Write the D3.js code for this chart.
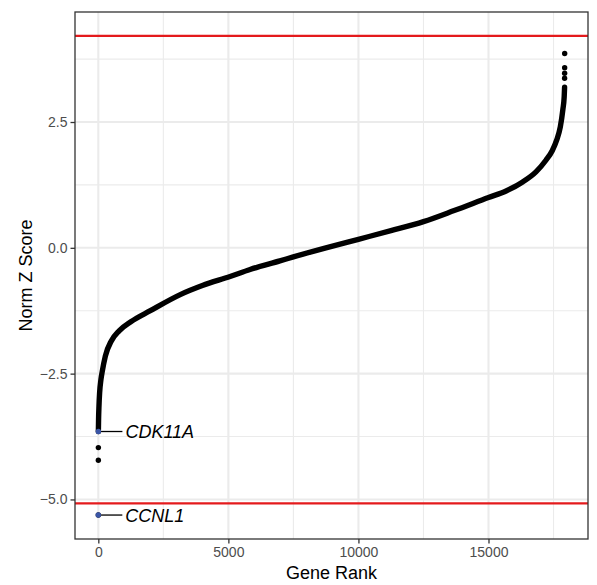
<!DOCTYPE html>
<html>
<head>
<meta charset="utf-8">
<script src="https://cdn.jsdelivr.net/npm/d3@7"></script>
<style>
    body { margin: 0; background: #fff; }
    text { font-family: 'Liberation Sans', Arial, sans-serif; }
</style>
</head>
<body>
<div id="myChart"></div>
<script>
// sorted gene scores (rank, norm z)
let geneRank = [3, 10, 25, 50, 100, 150, 270, 500, 800, 1250, 2000, 3150, 4000, 5065,
    5834, 6980, 7500, 8750, 10000, 11250, 12500, 13680, 15000, 15676, 16314, 16825,
    17208, 17450, 17620, 17760, 17860, 17910, 17925];
let normZ = [-3.62, -3.40, -3.15, -2.88, -2.62, -2.46, -2.15, -1.85, -1.65, -1.47, -1.25,
    -0.93, -0.75, -0.57, -0.43, -0.26, -0.18, 0.00, 0.17, 0.34, 0.52, 0.74, 1.00, 1.13,
    1.31, 1.51, 1.74, 1.93, 2.14, 2.40, 2.75, 3.00, 3.19];

// isolated points at both ends
let tailRank = [0, 1, 2, 3, 17926, 17927, 17928, 17929];
let tailZ = [-5.31, -4.22, -3.97, -3.65, 3.37, 3.47, 3.58, 3.86];

// labelled hits
let hitGene = ['CCNL1', 'CDK11A'];
let hitRank = [0, 3];
let hitZ = [-5.31, -3.65];

// cut-offs
let cutoffs = [4.21, -5.08];

let xTicks = [0, 5000, 10000, 15000];
let xMinor = [2500, 7500, 12500, 17500];
let yTicks = [-5.0, -2.5, 0.0, 2.5];
let yMinor = [-3.75, -1.25, 1.25, 3.75];

let W = 597, H = 585;
let margin = { top: 12, right: 9, bottom: 46, left: 75 };
let width = W - margin.left - margin.right;
let height = H - margin.top - margin.bottom;

let svg = d3
    .select('#myChart')
    .append('svg')
    .attr('width', W)
    .attr('height', H);

let g = svg.append('g')
    .attr('transform', 'translate(' + margin.left + ',' + margin.top + ')');

// ggplot style 5% expansion
let allRank = geneRank.concat(tailRank);
let allZ = normZ.concat(tailZ, cutoffs);
let xLo = d3.min(allRank), xHi = d3.max(allRank);
let yLo = d3.min(allZ), yHi = d3.max(allZ);
let xPad = (xHi - xLo) * 0.05, yPad = (yHi - yLo) * 0.05;

let x = d3.scaleLinear().domain([xLo - xPad, xHi + xPad]).range([0, width]);
let y = d3.scaleLinear().domain([yLo - yPad, yHi + yPad]).range([height, 0]);

// grid
g.selectAll('.minor-x').data(xMinor).enter().append('line')
    .attr('x1', d => x(d)).attr('x2', d => x(d))
    .attr('y1', 0).attr('y2', height)
    .attr('stroke', '#ebebeb').attr('stroke-width', 1.1);
g.selectAll('.minor-y').data(yMinor).enter().append('line')
    .attr('x1', 0).attr('x2', width)
    .attr('y1', d => y(d)).attr('y2', d => y(d))
    .attr('stroke', '#ebebeb').attr('stroke-width', 1.1);
g.selectAll('.major-x').data(xTicks).enter().append('line')
    .attr('x1', d => x(d)).attr('x2', d => x(d))
    .attr('y1', 0).attr('y2', height)
    .attr('stroke', '#ebebeb').attr('stroke-width', 2.1);
g.selectAll('.major-y').data(yTicks).enter().append('line')
    .attr('x1', 0).attr('x2', width)
    .attr('y1', d => y(d)).attr('y2', d => y(d))
    .attr('stroke', '#ebebeb').attr('stroke-width', 2.1);

// dense run of points drawn as a thick stroke
let band = d3.line()
    .x((d, i) => x(geneRank[i]))
    .y(d => y(d))
    .curve(d3.curveMonotoneX);

g.append('path')
    .datum(normZ)
    .attr('d', band)
    .attr('fill', 'none')
    .attr('stroke', '#000')
    .attr('stroke-width', 5.4)
    .attr('stroke-linecap', 'round')
    .attr('stroke-linejoin', 'round');

g.selectAll('.tail')
    .data(tailZ)
    .enter()
    .append('circle')
    .attr('cx', (d, i) => x(tailRank[i]))
    .attr('cy', d => y(d))
    .attr('r', 2.7)
    .attr('fill', '#000');

// cut-off lines
g.selectAll('.cutoff')
    .data(cutoffs)
    .enter()
    .append('line')
    .attr('x1', 0).attr('x2', width)
    .attr('y1', d => y(d)).attr('y2', d => y(d))
    .attr('stroke', '#e41a1c')
    .attr('stroke-width', 2.3);

// hits with labels
hitGene.forEach(function (name, i) {
    let px = x(hitRank[i]), py = y(hitZ[i]);
    g.append('line')
        .attr('x1', px).attr('x2', px + 24)
        .attr('y1', py).attr('y2', py)
        .attr('stroke', '#000')
        .attr('stroke-width', 1.3);
    g.append('circle')
        .attr('cx', px).attr('cy', py)
        .attr('r', 2.7)
        .attr('fill', '#3a55a6');
    g.append('text')
        .attr('x', px + 27)
        .attr('y', py)
        .attr('dy', '0.36em')
        .style('font-size', '18px')
        .style('font-style', 'italic')
        .attr('fill', '#000')
        .text(name);
});

// panel border
g.append('rect')
    .attr('width', width).attr('height', height)
    .attr('fill', 'none')
    .attr('stroke', '#333')
    .attr('stroke-width', 1.3);

// axes
let xAxis = g.append('g')
    .attr('transform', 'translate(0,' + height + ')')
    .call(d3.axisBottom(x).tickValues(xTicks).tickFormat(d3.format('d')).tickSize(4.5).tickPadding(4));
let yAxis = g.append('g')
    .call(d3.axisLeft(y).tickValues(yTicks).tickFormat(d3.format('.1f')).tickSize(4.5).tickPadding(3));

[xAxis, yAxis].forEach(function (a) {
    a.select('.domain').remove();
    a.selectAll('line').attr('stroke', '#333').attr('stroke-width', 1.3);
    a.selectAll('text')
        .attr('fill', '#4d4d4d')
        .style('font-size', '14px')
        .style('font-family', "'Liberation Sans', Arial, sans-serif");
});

svg.append('text')
    .attr('x', margin.left + width / 2)
    .attr('y', 579)
    .style('text-anchor', 'middle')
    .style('font-size', '18px')
    .attr('fill', '#000')
    .text('Gene Rank');

svg.append('text')
    .attr('transform', 'translate(32,' + (margin.top + height / 2) + ') rotate(-90)')
    .style('text-anchor', 'middle')
    .style('font-size', '18px')
    .attr('fill', '#000')
    .text('Norm Z Score');
</script>
</body>
</html>
